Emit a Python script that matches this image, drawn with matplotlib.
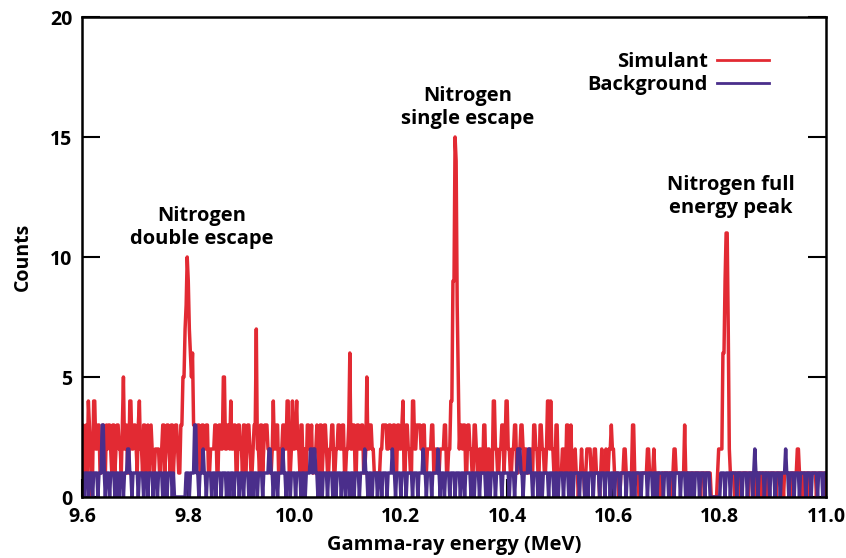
import numpy as np
import matplotlib.pyplot as plt

# === data: counts per 2 keV channel, 9.600 - 11.000 MeV (one row = 20 keV) ===
energy_start = 9.6
channel_width = 0.002

simulant = (
    [2, 3, 1, 2, 3, 1, 4, 3, 2, 0, 1, 4, 4, 2, 2, 3, 3, 1, 1, 2,
     3, 2, 1, 3, 2, 3, 3, 2, 1, 3, 3, 1, 2, 3, 3, 2, 2, 1, 3, 5,
     2, 2, 3, 1, 1, 4, 4, 2, 2, 3]                                  # 9.6
    + [3, 2, 1, 3, 4, 2, 2, 1, 3, 3, 1, 2, 3, 1, 2, 3, 2, 1, 1, 2,
       2, 2, 2, 1, 1, 2, 3, 3, 1, 2, 3, 3, 2, 1, 3, 3, 1, 2, 3, 3,
       2, 1, 1, 3, 3, 5, 5, 7, 8, 10]                               # 9.7
    + [9, 7, 6, 5, 6, 3, 3, 2, 2, 3, 3, 1, 1, 3, 3, 2, 2, 3, 3, 1,
       1, 2, 2, 2, 2, 3, 3, 1, 1, 3, 3, 2, 2, 5, 5, 2, 2, 3, 3, 2,
       4, 2, 2, 3, 3, 1, 1, 3, 3, 2]                                # 9.8
    + [2, 1, 3, 3, 1, 2, 3, 3, 2, 1, 1, 2, 3, 3, 7, 2, 2, 1, 3, 3,
       1, 2, 3, 3, 3, 2, 2, 1, 1, 2, 4, 2, 2, 3, 3, 1, 1, 2, 2, 3,
       3, 2, 2, 4, 4, 1, 1, 2, 4, 2]                                # 9.9
    + [2, 3, 4, 2, 2, 1, 3, 3, 1, 2, 2, 1, 3, 3, 2, 2, 3, 1, 1, 2,
       2, 3, 2, 1, 3, 3, 1, 2, 3, 3, 2, 1, 1, 2, 2, 3, 3, 1, 1, 2,
       2, 3, 3, 2, 2, 3, 3, 1, 1, 2]                                # 10.0
    + [2, 3, 6, 2, 2, 3, 3, 1, 1, 3, 3, 2, 2, 3, 3, 1, 1, 2, 5, 2,
       2, 3, 3, 2, 2, 1, 1, 1, 1, 1, 1, 2, 2, 3, 3, 3, 3, 2, 2, 3,
       3, 2, 2, 3, 3, 1, 1, 3, 3, 2]                                # 10.1
    + [2, 3, 4, 1, 1, 3, 3, 2, 2, 1, 1, 4, 4, 2, 2, 3, 3, 3, 3, 2,
       2, 3, 3, 1, 1, 2, 2, 2, 2, 3, 3, 1, 1, 2, 2, 1, 1, 2, 2, 2,
       2, 3, 3, 1, 1, 2, 2, 4, 4, 9]                                # 10.2
    + [9, 15, 14, 8, 5, 2, 3, 3, 2, 3, 3, 1, 1, 3, 3, 2, 2, 1, 1, 3,
       3, 2, 1, 1, 2, 2, 1, 1, 3, 3, 1, 1, 2, 2, 1, 1, 1, 4, 4, 2,
       2, 1, 1, 2, 2, 3, 3, 1, 2, 4]                                # 10.3
    + [4, 2, 2, 1, 1, 2, 2, 3, 3, 1, 1, 2, 2, 3, 3, 2, 1, 2, 2, 1,
       1, 2, 2, 1, 1, 3, 3, 2, 2, 1, 1, 3, 3, 2, 2, 1, 1, 2, 4, 4,
       2, 4, 2, 2, 1, 1, 3, 3, 1, 1]                                # 10.4
    + [1, 1, 2, 2, 1, 1, 3, 3, 1, 1, 3, 1, 1, 1, 2, 1, 1, 0, 1, 1,
       2, 1, 1, 0, 1, 2, 2, 2, 2, 1, 1, 1, 2, 2, 1, 1, 1, 0, 1, 2,
       1, 1, 1, 2, 1, 1, 2, 2, 3, 2]                                # 10.5
    + [2, 1, 1, 1, 1, 0, 0, 1, 1, 1, 2, 2, 1, 1, 1, 1, 1, 1, 3, 3,
       1, 1, 1, 1, 0, 0, 1, 1, 1, 1, 1, 1, 2, 2, 1, 1, 1, 1, 2, 1,
       1, 1, 1, 1, 0, 0, 1, 1, 1, 1]                                # 10.6
    + [1, 1, 1, 1, 1, 0, 1, 2, 2, 1, 1, 1, 1, 1, 1, 1, 1, 3, 1, 1,
       0, 1, 1, 1, 1, 1, 1, 1, 1, 1, 1, 1, 0, 1, 1, 1, 1, 1, 1, 1,
       1, 1, 0, 0, 0, 0, 0, 0, 1, 2]                                # 10.7
    + [2, 2, 2, 6, 6, 9, 11, 11, 7, 2, 1, 1, 1, 1, 0, 1, 1, 1, 1, 1,
       0, 1, 1, 1, 1, 1, 1, 0, 1, 1, 1, 1, 1, 0, 1, 1, 1, 1, 1, 0,
       1, 1, 1, 1, 1, 0, 1, 1, 1, 1]                                # 10.8
    + [1, 1, 1, 0, 1, 1, 1, 1, 1, 1, 0, 1, 1, 1, 1, 1, 0, 1, 1, 1,
       1, 1, 1, 2, 2, 1, 1, 1, 0, 1, 1, 1, 1, 1, 1, 0, 1, 1, 1, 1,
       1, 0, 1, 1, 1, 1, 1, 1, 0, 1]                                # 10.9
    + [1]
)

background = (
    [1, 1, 0, 1, 1, 1, 0, 1, 1, 1, 0, 1, 1, 1, 1, 0, 1, 1, 1, 3,
     3, 1, 0, 1, 1, 1, 0, 1, 1, 1, 1, 0, 1, 1, 1, 0, 1, 1, 1, 0,
     1, 1, 1, 2, 2, 1, 1, 0, 1, 1]                                  # 9.6
    + [1, 1, 1, 0, 1, 1, 1, 1, 0, 1, 1, 1, 0, 1, 1, 1, 1, 0, 1, 1,
       1, 0, 1, 1, 1, 1, 0, 1, 1, 1, 0, 1, 1, 1, 1, 0, 1, 0, 0, 0,
       0, 0, 0, 0, 0, 0, 0, 0, 1, 1]                                # 9.7
    + [1, 0, 1, 1, 1, 1, 3, 3, 1, 1, 0, 1, 1, 1, 2, 1, 1, 0, 1, 1,
       1, 1, 0, 1, 1, 1, 0, 1, 1, 1, 1, 0, 1, 1, 1, 1, 0, 1, 1, 0,
       1, 1, 1, 0, 1, 1, 1, 1, 0, 1]                                # 9.8
    + [1, 1, 0, 1, 1, 1, 1, 0, 1, 1, 1, 0, 1, 1, 1, 0, 1, 1, 1, 1,
       0, 1, 1, 1, 1, 1, 2, 2, 1, 1, 0, 1, 1, 1, 0, 1, 1, 1, 1, 2,
       1, 1, 0, 1, 1, 1, 0, 1, 1, 1]                                # 9.9
    + [1, 0, 1, 1, 1, 1, 0, 1, 1, 1, 0, 1, 1, 1, 1, 2, 2, 1, 2, 2,
       1, 1, 0, 1, 1, 1, 0, 1, 1, 1, 1, 0, 1, 1, 1, 1, 0, 1, 1, 0,
       1, 1, 1, 1, 0, 1, 1, 1, 0, 1]                                # 10.0
    + [1, 1, 0, 1, 1, 1, 0, 1, 1, 1, 1, 0, 1, 1, 1, 1, 2, 1, 1, 0,
       1, 1, 1, 0, 1, 1, 1, 1, 0, 1, 1, 1, 0, 1, 1, 1, 1, 0, 1, 1,
       1, 1, 2, 1, 1, 0, 1, 1, 1, 1]                                # 10.1
    + [0, 1, 1, 1, 1, 0, 1, 1, 1, 1, 1, 0, 1, 1, 1, 1, 0, 1, 1, 1,
       1, 2, 1, 1, 0, 1, 1, 1, 1, 0, 1, 1, 1, 1, 1, 2, 1, 0, 1, 1,
       1, 0, 1, 1, 1, 1, 0, 1, 1, 1]                                # 10.2
    + [1, 0, 1, 1, 1, 1, 0, 1, 1, 1, 0, 1, 1, 1, 1, 1, 0, 1, 1, 0,
       1, 1, 1, 1, 0, 1, 1, 1, 1, 1, 0, 1, 1, 1, 0, 1, 1, 1, 1, 0,
       1, 1, 1, 1, 1, 0, 1, 1, 1, 1]                                # 10.3
    + [1, 1, 0, 1, 1, 1, 1, 0, 1, 1, 2, 2, 2, 1, 1, 0, 1, 1, 1, 1,
       2, 2, 1, 1, 0, 1, 1, 1, 1, 0, 1, 1, 1, 0, 1, 1, 1, 1, 1, 0,
       1, 1, 1, 1, 0, 1, 1, 1, 0, 1]                                # 10.4
    + [1, 1, 1, 0, 1, 1, 1, 1, 0, 1, 1, 1, 0, 1, 1, 1, 1, 1, 0, 1,
       1, 1, 1, 0, 1, 1, 0, 1, 1, 1, 1, 0, 1, 1, 1, 1, 1, 0, 1, 1,
       1, 1, 0, 1, 1, 1, 1, 0, 1, 1]                                # 10.5
    + [1, 0, 1, 1, 1, 1, 0, 1, 1, 1, 1, 1, 0, 1, 1, 1, 1, 0, 1, 1,
       0, 1, 1, 1, 1, 1, 0, 1, 1, 1, 1, 1, 0, 1, 1, 1, 1, 0, 1, 1,
       1, 0, 1, 1, 1, 1, 1, 0, 1, 1]                                # 10.6
    + [1, 1, 0, 1, 1, 1, 1, 0, 1, 1, 1, 1, 1, 0, 1, 1, 1, 1, 0, 1,
       1, 1, 0, 1, 1, 1, 0, 1, 1, 1, 1, 0, 1, 1, 1, 1, 0, 1, 1, 1,
       1, 0, 0, 0, 0, 0, 0, 0, 0, 0]                                # 10.7
    + [0, 1, 1, 1, 1, 0, 1, 1, 1, 1, 0, 1, 1, 1, 1, 1, 0, 1, 1, 1,
       1, 0, 1, 1, 1, 1, 0, 1, 1, 1, 1, 0, 1, 2, 1, 1, 0, 1, 1, 1,
       1, 1, 0, 1, 1, 1, 1, 0, 1, 1]                                # 10.8
    + [1, 1, 0, 1, 1, 1, 1, 0, 1, 1, 1, 1, 2, 1, 1, 0, 1, 1, 1, 1,
       0, 1, 1, 1, 1, 0, 1, 1, 1, 1, 1, 0, 1, 1, 1, 1, 0, 1, 1, 1,
       1, 1, 0, 1, 1, 1, 1, 0, 1, 1]                                # 10.9
    + [1]
)

x_ticks = [9.6, 9.8, 10.0, 10.2, 10.4, 10.6, 10.8, 11.0]
y_ticks = [0, 5, 10, 15, 20]

energy = energy_start + channel_width * np.arange(len(simulant))

RED = "#e22a33"
BLUE = "#4a2e8b"

plt.rcParams['font.family'] = ['Open Sans', 'DejaVu Sans']
plt.rcParams['font.weight'] = 'bold'

fig = plt.figure(figsize=(8.46, 5.58), dpi=100)
ax = fig.add_axes([0.0969, 0.1093, 0.8795, 0.8602])

ax.plot(energy, simulant, color=RED, lw=2.5, label="Simulant")
ax.plot(energy, background, color=BLUE, lw=2.5, label="Background")

ax.set_xlim(9.6, 11.0)
ax.set_ylim(0, 20)
ax.set_xticks(x_ticks)
ax.set_xticklabels(["%.1f" % t for t in x_ticks])
ax.set_yticks(y_ticks)
ax.tick_params(direction='in', length=13, width=1.5, labelsize=14,
               right=True, pad=7)
for s in ax.spines.values():
    s.set_linewidth(1.8)

ax.set_xlabel("Gamma-ray energy (MeV)", fontsize=14.5, fontweight='bold', labelpad=6)
ax.set_ylabel("Counts", fontsize=14, fontweight='bold', labelpad=12)

# peak labels
lab = dict(ha='center', va='center', fontsize=14.5, fontweight='bold', linespacing=1.2)
ax.text(9.826, 11.23, "Nitrogen\ndouble escape", **lab)
ax.text(10.326, 16.25, "Nitrogen\nsingle escape", **lab)
ax.text(10.821, 12.54, "Nitrogen full\nenergy peak", **lab)

leg = ax.legend(loc='upper right', bbox_to_anchor=(0.948, 0.965), frameon=False,
                markerfirst=False, fontsize=14.5, handlelength=2.6,
                handletextpad=0.45, labelspacing=0.15)
for t in leg.get_texts():
    t.set_fontweight('bold')
for h in leg.get_lines():
    h.set_linewidth(2.0)

fig.savefig("out.png", dpi=100)
